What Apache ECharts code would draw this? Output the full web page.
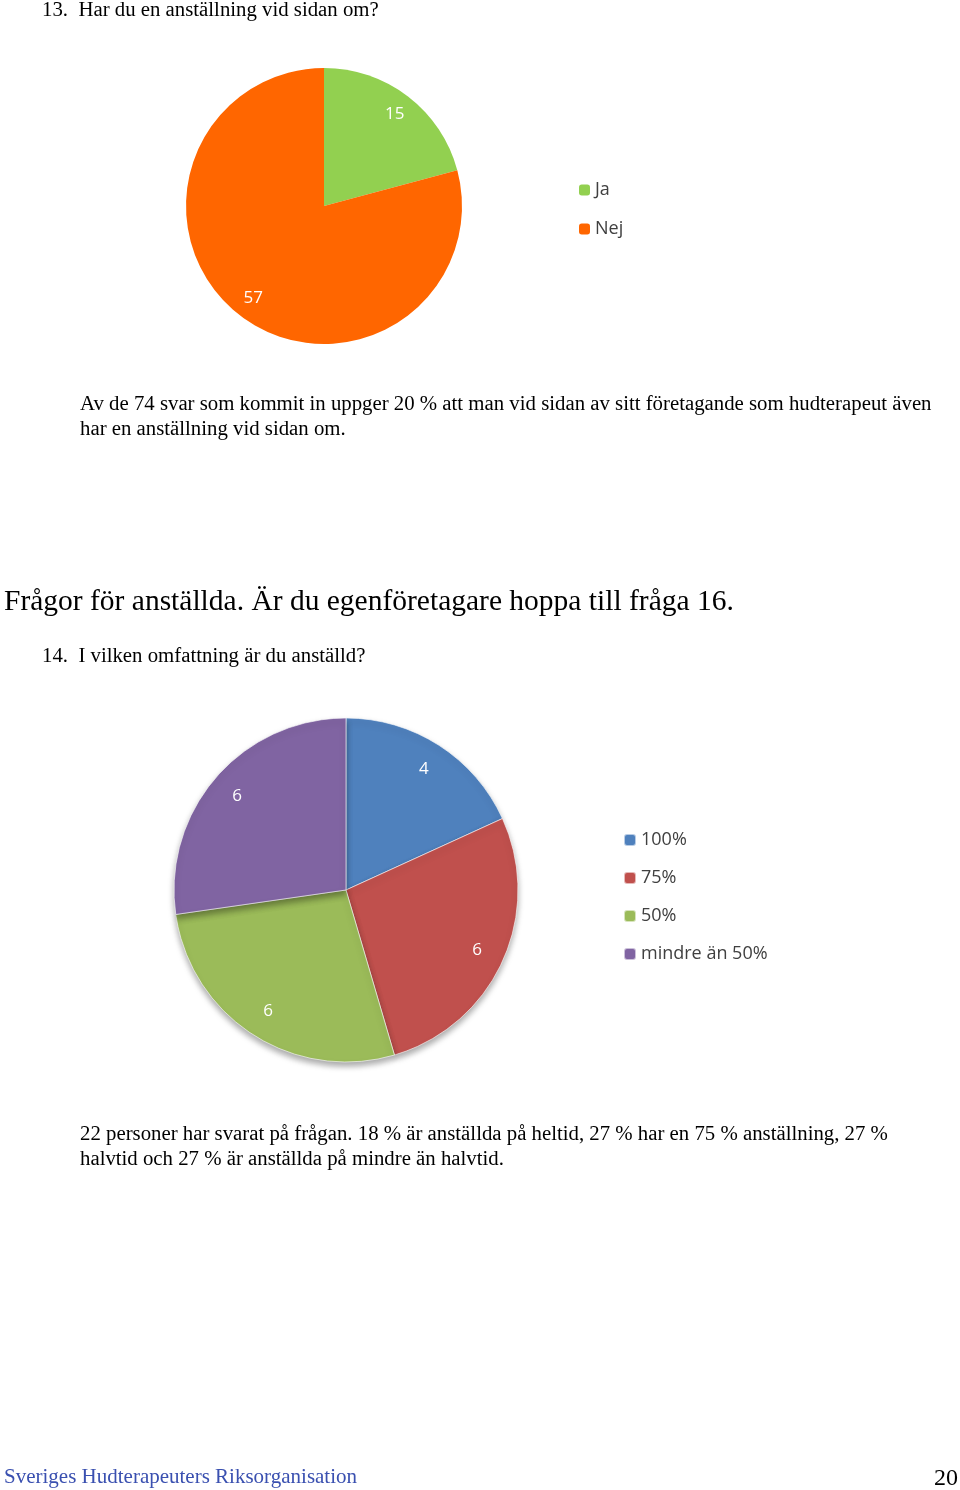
<!DOCTYPE html>
<html><head><meta charset="utf-8">
<script src="https://cdn.jsdelivr.net/npm/echarts@6/dist/echarts.min.js"></script>
<style>
body{margin:0;width:960px;height:1490px;background:#fff;position:relative;font-family:"Liberation Serif","Times New Roman",serif;color:#000}
#c{position:absolute;left:0;top:0;width:960px;height:1490px}
.t{position:absolute;white-space:nowrap}
</style></head><body>
<div id="c"></div>
<div class="t" style="left:42px;top:-3px;font-size:20.8px">13.&nbsp;&nbsp;Har du en anställning vid sidan om?</div>
<div class="t" style="left:80px;top:390px;font-size:20.8px;line-height:25px">Av de 74 svar som kommit in uppger 20 % att man vid sidan av sitt företagande som hudterapeut även<br>har en anställning vid sidan om.</div>
<div class="t" style="left:4px;top:584px;font-size:29.5px">Frågor för anställda. Är du egenföretagare hoppa till fråga 16.</div>
<div class="t" style="left:42px;top:643px;font-size:20.8px">14.&nbsp;&nbsp;I vilken omfattning är du anställd?</div>
<div class="t" style="left:80px;top:1120px;font-size:20.8px;line-height:25px">22 personer har svarat på frågan. 18 % är anställda på heltid, 27 % har en 75 % anställning, 27 %<br>halvtid och 27 % är anställda på mindre än halvtid.</div>
<div class="t" style="left:4px;top:1464px;font-size:21px;color:#3a50b0">Sveriges Hudterapeuters Riksorganisation</div>
<div class="t" style="left:934px;top:1464px;font-size:24px">20</div>
<script>
const cats1=['Ja','Nej'];
const vals1=[15,57];
const cols1=['#92D050','#FF6600'];
const cats2=['100%','75%','50%','mindre än 50%'];
const vals2=[4,6,6,6];
const cols2=['#4F81BD','#C0504D','#9BBB59','#8064A2'];
const d1=cats1.map((n,i)=>({name:n,value:vals1[i],itemStyle:{color:cols1[i]}}));
const d2=cats2.map((n,i)=>({name:n,value:vals2[i],itemStyle:{color:cols2[i]}}));
const lf={fontFamily:'Open Sans, Liberation Sans, sans-serif',fontSize:18,color:'#404040'};
const ch=echarts.init(document.getElementById('c'));
function pie(data,c,r,shadow){
  return [{type:'pie',center:c,radius:[0,r],startAngle:90,clockwise:true,data:data,label:{show:false},labelLine:{show:false},silent:true,
    itemStyle:{borderColor:'rgba(255,255,255,0.6)',borderWidth:shadow?1:0,shadowBlur:shadow?6:0,shadowColor:'rgba(0,0,0,0.35)',shadowOffsetY:shadow?4:0}},
   {type:'pie',center:c,radius:[r*0.64,r],startAngle:90,clockwise:true,silent:true,
    data:data.map(d=>({name:d.name,value:d.value,itemStyle:{color:'rgba(0,0,0,0)'}})),
    label:{show:true,position:'inner',formatter:'{c}',color:'#fff',fontSize:17,fontFamily:'Open Sans, Liberation Sans, sans-serif'},labelLine:{show:false}}];
}
ch.setOption({animation:false,
 legend:[{data:cats1,orient:'vertical',left:574,top:176,itemWidth:11,itemHeight:11,itemGap:21,textStyle:lf},
         {data:cats2,orient:'vertical',left:618,top:826,itemWidth:12,itemHeight:12,itemGap:20,textStyle:lf}],
 series:[...pie(d1,[324,206],138,false),...pie(d2,[346,890],172,true)]
});
</script></body></html>
